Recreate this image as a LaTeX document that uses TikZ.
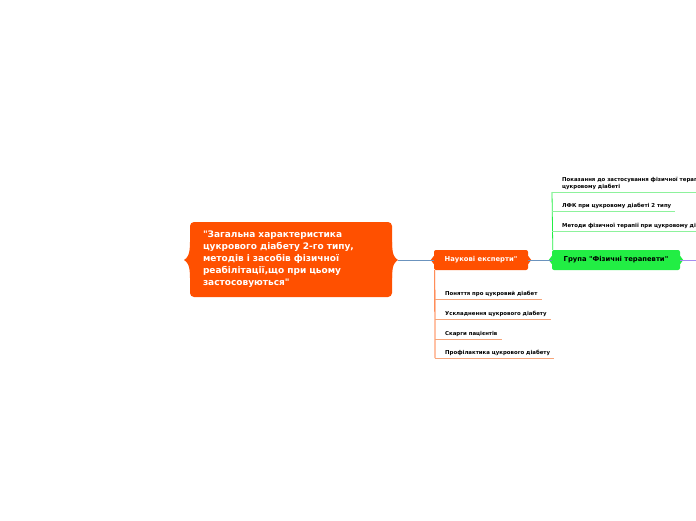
\documentclass[tikz,border=0pt]{standalone}
\usepackage{fontspec}
\setmainfont{DejaVu Sans}[Ligatures=TeXOff]
\usepackage{xcolor}
\usepackage{tikz}
\usetikzlibrary{positioning,calc}
\definecolor{laranja}{HTML}{FF5000}
\definecolor{laranjaClaro}{HTML}{F7A57A}
\definecolor{verde}{HTML}{22EE44}
\definecolor{verdeClaro}{HTML}{8DF29C}
\definecolor{ligacao}{HTML}{6B93BE}
\definecolor{roxo}{HTML}{A58CF0}
\tikzset{
    tema/.style={
        rectangle,
        fill=laranja,
        text=white,
        rounded corners=4pt,
        align=left,
        minimum width=202pt,
        minimum height=75pt,
        text width=176pt,
        font=\bfseries\fontsize{9}{12}\selectfont
    },
    ramo/.style={
        rectangle,
        rounded corners=2pt,
        minimum height=20pt,
        inner sep=0pt,
        font=\bfseries\fontsize{6.8}{8}\selectfont
    },
    ramoLaranja/.style={ramo, fill=laranja, text=white, minimum width=94pt},
    ramoVerde/.style={ramo, fill=verde, text=black, minimum width=128pt},
    topico/.style={
        anchor=south west,
        align=left,
        inner xsep=0pt,
        inner ysep=2pt,
        font=\bfseries\fontsize{5.4}{7}\selectfont
    },
    ligar/.style={draw=ligacao, line width=0.8pt}
}

\begin{document}
\begin{tikzpicture}[x=1pt,y=-1pt]
    \path[use as bounding box, clip] (0,0) rectangle (696,520);

    % nos principais
    \node[tema] (tema) at (291,259.5)
    {"Загальна характеристика\\цукрового діабету 2-го типу,\\методів і засобів фізичної\\реабілітації,що при цьому\\застосовуються"};

    \node[ramoLaranja] (cientistas) at (481,260) {Наукові експерти"};
    \node[ramoVerde] (grupo) at (616,260) {Група "Фізичні терапевти"};
    \coordinate (fimRoxo) at (700,260);

    % chavetas do tema
    \fill[laranja] (190,242) .. controls (190,256) and (187,258) .. (184,260)
        .. controls (187,262) and (190,264) .. (190,278) -- cycle;
    \fill[laranja] (392,242) .. controls (392,256) and (395,258) .. (398,260)
        .. controls (395,262) and (392,264) .. (392,278) -- cycle;
    \fill[laranja] (cientistas.west) ++(0,-4) -- ++(-3,4) -- ++(3,4) -- cycle;
    \fill[laranja] (cientistas.east) ++(0,-4) -- ++(3,4) -- ++(-3,4) -- cycle;
    \fill[verde] (grupo.west) ++(0,-4) -- ++(-3,4) -- ++(3,4) -- cycle;
    \fill[verde] (grupo.east) ++(0,-4) -- ++(3,4) -- ++(-3,4) -- cycle;

    \draw[ligar] (398,260) -- (cientistas.west);
    \draw[ligar] (cientistas.east) -- (grupo.west);
    \draw[draw=roxo, line width=0.8pt] (grupo.east) -- (fimRoxo);

    % topicos dos cientistas
    \node[topico] (c1) at (445,299) {Поняття про цукровий діабет};
    \node[topico] (c2) at (445,319) {Ускладнення цукрового діабету};
    \node[topico] (c3) at (445,339) {Скарги пацієнтів};
    \node[topico] (c4) at (445,358) {Профілактика цукрового діабету};
    \coordinate (pe) at (435,358);

    \draw[laranja, line width=0.8pt] ([xshift=1pt]cientistas.south west) -- (pe);
    \foreach \t in {c1,c2,c3,c4}
        \draw[laranjaClaro, line width=0.7pt] (pe |- \t.south) -- ([xshift=4pt]\t.south east);

    % topicos do grupo
    \node[topico] (g1) at (562,192) {Показання до застосування фізичної терапії при\\цукровому діабеті};
    \node[topico] (g2) at (562,211) {ЛФК при цукровому діабеті 2 типу};
    \node[topico] (g3) at (562,231) {Методи фізичної терапії при цукровому діабеті};
    \coordinate (topo) at (552,192);

    \draw[verde, line width=0.8pt] (topo) -- ([xshift=1pt]grupo.north west);
    \foreach \t in {g1,g2,g3}
        \draw[verdeClaro, line width=0.7pt] (topo |- \t.south) -- ([xshift=4pt]\t.south east);

\end{tikzpicture}
\end{document}
